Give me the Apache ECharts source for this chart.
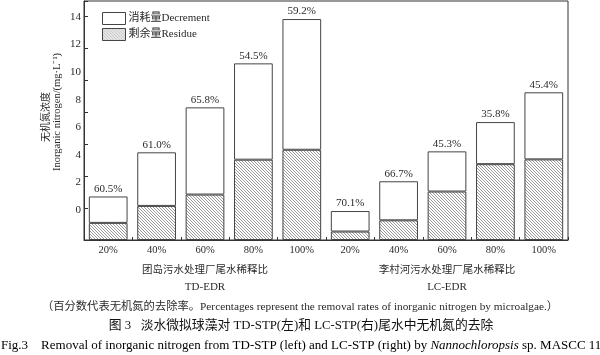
<!DOCTYPE html>
<html><head><meta charset="utf-8">
<script src="https://cdn.jsdelivr.net/npm/echarts@6/dist/echarts.min.js"></script>
<style>html,body{margin:0;padding:0;background:#fff}#c{width:600px;height:355px}</style>
</head><body><div id="c"></div>
<script>
const categories = ['20%','40%','60%','80%','100%','20%','40%','60%','80%','100%'];
const residue = [1.07, 2.13, 2.84, 5.02, 5.64, 0.53, 1.23, 3.03, 4.74, 5.04];
const decrement = [1.65, 3.35, 5.45, 6.02, 8.17, 1.28, 2.44, 2.51, 2.63, 4.19];
const removalRates = ['60.5%','61.0%','65.8%','54.5%','59.2%','70.1%','66.7%','45.3%','35.8%','45.4%'];
const yTickLabels = [0, 2, 4, 6, 8, 10, 12, 14];
const groupNames = ['团岛污水处理厂尾水稀释比', '李村河污水处理厂尾水稀释比'];
const groupCodes = ['TD-EDR', 'LC-EDR'];

const SERIF = "'Liberation Serif','Noto Sans CJK SC',serif";
const INK = '#2a2a2a';

// hatch pattern
const pc = document.createElement('canvas');
pc.width = 3; pc.height = 3;
const px = pc.getContext('2d');
px.fillStyle = '#ffffff'; px.fillRect(0,0,3,3);
px.fillStyle = '#999999';
for (let i = 0; i < 3; i++) px.fillRect(i, i, 1, 1);
const hatch = {image: pc, repeat: 'repeat'};

const chart = echarts.init(document.getElementById('c'), null, {renderer: 'canvas'});
const gridL = 84, gridR = 32, gridT = 1, gridB = 115;
const plotH = 355 - gridT - gridB;

chart.setOption({
  animation: false,
  backgroundColor: '#fff',
  textStyle: {fontFamily: SERIF, color: INK},
  grid: [
    {left: gridL, right: gridR, top: gridT, bottom: gridB, show: true, borderColor: '#333', borderWidth: 1},
    {left: gridL, right: gridR, top: 17, bottom: 117.4}
  ],
  legend: {
    orient: 'vertical', left: 97, top: 7, itemWidth: 23, itemHeight: 12, itemGap: 3,
    icon: 'rect',
    textStyle: {fontFamily: SERIF, fontSize: 11, color: INK, padding: [0,0,0,-2]},
    data: [
      {name: '消耗量Decrement', itemStyle: {color: '#fff', borderColor: '#444', borderWidth: 1}},
      {name: '剩余量Residue', itemStyle: {color: hatch, borderColor: '#444', borderWidth: 1}}
    ]
  },
  xAxis: [
    {type: 'category', gridIndex: 0, data: categories,
     axisLine: {lineStyle: {color: '#333', width: 1}},
     axisTick: {show: true, inside: true, length: 3, lineStyle: {color: '#333'}},
     axisLabel: {fontFamily: SERIF, fontSize: 10.5, color: INK, margin: 5}},
    {type: 'category', gridIndex: 1, data: categories, show: false}
  ],
  yAxis: [
    {type: 'value', gridIndex: 0, min: 0, max: plotH / 16, interval: 2,
     splitLine: {show: false},
     axisLine: {show: true, lineStyle: {color: '#333'}},
     axisTick: {show: true, inside: true, length: 4, lineStyle: {color: '#333'}},
     axisLabel: {show: false}},
    {type: 'value', gridIndex: 1, min: -2, max: 14, interval: 2,
     splitLine: {show: false}, axisLine: {show: false}, axisTick: {show: false},
     axisLabel: {show: true, showMinLabel: false, margin: 3, fontFamily: SERIF, fontSize: 11, color: INK,
       formatter: v => yTickLabels.includes(v) ? String(v) : ''}}
  ],
  series: [
    {name: '剩余量Residue', type: 'bar', stack: 'n', xAxisIndex: 0, yAxisIndex: 0, barWidth: '80%',
     data: residue,
     itemStyle: {color: hatch, borderColor: '#444', borderWidth: 1}},
    {name: '消耗量Decrement', type: 'bar', stack: 'n', xAxisIndex: 0, yAxisIndex: 0, barWidth: '80%',
     data: decrement,
     itemStyle: {color: '#fff', borderColor: '#444', borderWidth: 1},
     label: {show: true, position: 'top', distance: 2, fontFamily: SERIF, fontSize: 11, color: INK,
       formatter: p => removalRates[p.dataIndex]}}
  ],
  graphic: [
    {type: 'text', x: 45, y: 117, rotation: Math.PI/2,
     style: {text: '无机氮浓度', font: "10px 'Noto Sans CJK SC'", fill: INK, textAlign: 'center', textVerticalAlign: 'middle'}},
    {type: 'text', x: 57, y: 112, rotation: Math.PI/2,
     style: {text: 'Inorganic nitrogen/(mg·L⁻¹)', font: "10.5px 'Liberation Serif'", fill: INK, textAlign: 'center', textVerticalAlign: 'middle'}},
    {type: 'text', x: 205, y: 269,
     style: {text: groupNames[0], font: "10.5px 'Noto Sans CJK SC'", fill: INK, textAlign: 'center', textVerticalAlign: 'middle'}},
    {type: 'text', x: 447, y: 269,
     style: {text: groupNames[1], font: "10.5px 'Noto Sans CJK SC'", fill: INK, textAlign: 'center', textVerticalAlign: 'middle'}},
    {type: 'text', x: 205, y: 287,
     style: {text: groupCodes[0], font: "11px 'Liberation Serif'", fill: INK, textAlign: 'center', textVerticalAlign: 'middle'}},
    {type: 'text', x: 447, y: 287,
     style: {text: groupCodes[1], font: "11px 'Liberation Serif'", fill: INK, textAlign: 'center', textVerticalAlign: 'middle'}},
    {type: 'text', x: 300, y: 307,
     style: {text: '（百分数代表无机氮的去除率。Percentages represent the removal rates of inorganic nitrogen by microalgae.）',
       font: "11.3px 'Liberation Serif','Noto Sans CJK SC'", fill: INK, textAlign: 'center', textVerticalAlign: 'middle'}},
    {type: 'text', x: 301, y: 326,
     style: {text: '图 3   淡水微拟球藻对 TD-STP(左)和 LC-STP(右)尾水中无机氮的去除',
       font: "12.8px 'Liberation Serif','Noto Sans CJK SC'", fill: '#111', textAlign: 'center', textVerticalAlign: 'middle'}},
    {type: 'text', x: 1, y: 346,
     style: {rich: {n: {fontFamily: SERIF, fontSize: 13, color: INK}, i: {fontFamily: SERIF, fontSize: 13, fontStyle: 'italic', color: INK}},
       text: '{n|Fig.3    Removal of inorganic nitrogen from TD-STP (left) and LC-STP (right) by }{i|Nannochloropsis}{n| sp. MASCC 11}',
       textAlign: 'left', textVerticalAlign: 'middle'}}
  ]
});
</script></body></html>
